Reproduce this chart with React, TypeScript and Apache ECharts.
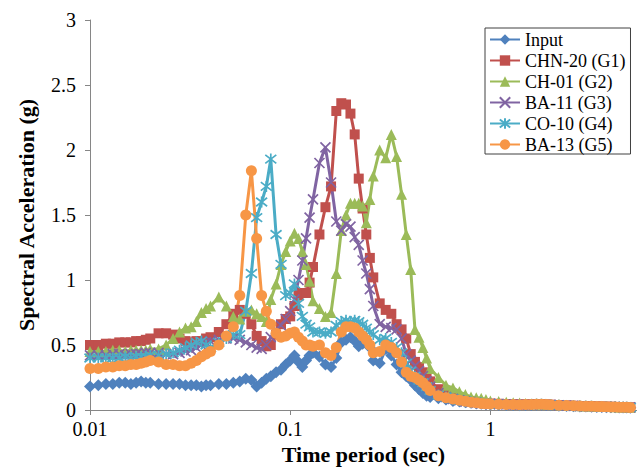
import React, { useEffect, useRef } from "react";
import * as echarts from "echarts";

// Time period (sec)
const periods = [
  0.010, 0.011, 0.012, 0.013, 0.014, 0.015, 0.016, 0.017, 0.018, 0.019, 0.020,
  0.022, 0.024, 0.026, 0.028, 0.030, 0.032, 0.034, 0.036, 0.038, 0.040,
  0.044, 0.048, 0.052, 0.056, 0.060, 0.064, 0.068, 0.072, 0.076, 0.080,
  0.085, 0.090, 0.095, 0.100,
  0.105, 0.110, 0.115, 0.120, 0.125, 0.130, 0.140, 0.150, 0.160, 0.170,
  0.180, 0.190, 0.200, 0.210, 0.220, 0.230, 0.240, 0.250, 0.260, 0.280,
  0.300, 0.320, 0.340, 0.360, 0.380, 0.400,
  0.42, 0.44, 0.46, 0.48, 0.50, 0.55, 0.60, 0.65, 0.70, 0.75, 0.80, 0.85,
  0.90, 0.95, 1.0,
  1.1, 1.2, 1.3, 1.4, 1.5, 1.6, 1.7, 1.8, 1.9, 2.0, 2.2, 2.4, 2.6, 2.8,
  3.0, 3.2, 3.4, 3.6, 3.8, 4.0, 4.2, 4.4, 4.6, 4.8, 5.0,
];

const inputSA = [
  0.18, 0.19, 0.20, 0.20, 0.21, 0.21, 0.20, 0.21, 0.22, 0.21, 0.21,
  0.20, 0.20, 0.20, 0.20, 0.19, 0.19, 0.19, 0.18, 0.19, 0.19,
  0.20, 0.20, 0.21, 0.22, 0.24, 0.23, 0.18, 0.21, 0.24, 0.26,
  0.29, 0.31, 0.35, 0.38,
  0.42, 0.37, 0.33, 0.38, 0.42, 0.44, 0.41, 0.35, 0.33, 0.40,
  0.52, 0.54, 0.56, 0.53, 0.49, 0.51, 0.54, 0.48, 0.38, 0.36,
  0.47, 0.42, 0.35, 0.29, 0.26, 0.23,
  0.19, 0.16, 0.13, 0.11, 0.10, 0.09, 0.08, 0.07, 0.065, 0.06, 0.055, 0.05,
  0.048, 0.045, 0.042,
  0.040, 0.039, 0.038, 0.037, 0.038, 0.039, 0.040, 0.040, 0.038, 0.036, 0.033, 0.031, 0.029, 0.027,
  0.026, 0.025, 0.024, 0.023, 0.022, 0.021, 0.021, 0.020, 0.019, 0.019, 0.018,
];

const chn20 = [
  0.50, 0.50, 0.51, 0.51, 0.52, 0.52, 0.52, 0.53, 0.53, 0.54, 0.55,
  0.59, 0.59, 0.58, 0.55, 0.53, 0.52, 0.53, 0.53, 0.55, 0.56,
  0.60, 0.66, 0.74, 0.77, 0.74, 0.66, 0.57, 0.53, 0.49, 0.50,
  0.58, 0.66, 0.70, 0.72,
  0.80, 0.88, 0.90, 0.90, 0.98, 1.10, 1.35, 1.56, 1.72, 2.30,
  2.36, 2.35, 2.28, 2.12, 1.78, 1.55, 1.35, 1.17, 1.02, 0.82,
  0.77, 0.74, 0.66, 0.62, 0.55, 0.43,
  0.37, 0.33, 0.29, 0.26, 0.22, 0.16, 0.12, 0.10, 0.085, 0.075, 0.065, 0.06,
  0.055, 0.05, 0.05,
  0.048, 0.046, 0.044, 0.043, 0.043, 0.044, 0.045, 0.045, 0.043, 0.041, 0.038, 0.035, 0.033, 0.031,
  0.030, 0.029, 0.028, 0.027, 0.026, 0.025, 0.024, 0.023, 0.023, 0.022, 0.021,
];

const ch01 = [
  0.45, 0.45, 0.45, 0.46, 0.46, 0.45, 0.46, 0.46, 0.46, 0.46, 0.47,
  0.47, 0.50, 0.55, 0.60, 0.63, 0.64, 0.68, 0.75, 0.78, 0.80,
  0.87, 0.80, 0.72, 0.70, 0.76, 0.77, 0.74, 0.72, 0.68, 0.85,
  0.97, 1.12, 1.22, 1.30,
  1.36, 1.32, 1.22, 1.12, 0.99, 0.84, 0.78, 0.72, 0.75, 1.05,
  1.38, 1.50, 1.59, 1.59, 1.59, 1.57, 1.44, 1.62, 1.80, 2.00,
  1.94, 2.12, 1.95, 1.66, 1.35, 1.08,
  0.62, 0.56, 0.48, 0.40, 0.32, 0.25, 0.19, 0.17, 0.14, 0.12, 0.10, 0.095,
  0.09, 0.08, 0.07,
  0.065, 0.060, 0.056, 0.053, 0.050, 0.049, 0.048, 0.047, 0.045, 0.043, 0.040, 0.037, 0.035, 0.033,
  0.031, 0.030, 0.029, 0.028, 0.027, 0.026, 0.025, 0.024, 0.023, 0.022, 0.021,
];

const ba11 = [
  0.42, 0.42, 0.42, 0.43, 0.43, 0.42, 0.43, 0.43, 0.43, 0.44, 0.44,
  0.44, 0.43, 0.43, 0.44, 0.45, 0.46, 0.48, 0.50, 0.52, 0.53,
  0.54, 0.55, 0.55, 0.54, 0.52, 0.50, 0.48, 0.47, 0.50, 0.56,
  0.62, 0.65, 0.70, 0.76,
  0.85, 1.00, 1.15, 1.32, 1.48, 1.62, 1.90, 2.02, 1.75, 1.45,
  1.38, 1.43, 1.41, 1.33, 1.27, 1.15, 1.05, 0.93, 0.80, 0.66,
  0.64, 0.63, 0.62, 0.55, 0.43, 0.38,
  0.34, 0.30, 0.26, 0.22, 0.18, 0.13, 0.10, 0.085, 0.075, 0.065, 0.06, 0.055,
  0.05, 0.048, 0.045,
  0.045, 0.043, 0.042, 0.041, 0.041, 0.042, 0.043, 0.043, 0.041, 0.039, 0.036, 0.033, 0.031, 0.029,
  0.028, 0.027, 0.026, 0.025, 0.024, 0.023, 0.022, 0.022, 0.021, 0.020, 0.020,
];

const co10 = [
  0.40, 0.40, 0.40, 0.40, 0.40, 0.41, 0.40, 0.41, 0.41, 0.41, 0.42,
  0.42, 0.43, 0.44, 0.46, 0.48, 0.50, 0.52, 0.53, 0.50, 0.48,
  0.52, 0.55, 0.58, 0.58, 0.76, 1.05, 1.48, 1.60, 1.72, 1.93,
  1.35, 1.12, 0.88, 0.90,
  0.97, 0.82, 0.72, 0.66, 0.64, 0.60, 0.60, 0.59, 0.60, 0.65,
  0.68, 0.69, 0.68, 0.69, 0.68, 0.66, 0.63, 0.60, 0.58, 0.54,
  0.55, 0.52, 0.48, 0.44, 0.36, 0.30,
  0.26, 0.23, 0.21, 0.18, 0.15, 0.115, 0.10, 0.085, 0.075, 0.068, 0.062, 0.057,
  0.053, 0.05, 0.047,
  0.045, 0.043, 0.042, 0.041, 0.042, 0.043, 0.044, 0.044, 0.042, 0.040, 0.037, 0.034, 0.032, 0.030,
  0.029, 0.028, 0.027, 0.026, 0.025, 0.024, 0.023, 0.022, 0.022, 0.021, 0.020,
];

const ba13 = [
  0.32, 0.32, 0.33, 0.33, 0.34, 0.34, 0.35, 0.35, 0.36, 0.37, 0.38,
  0.37, 0.35, 0.35, 0.34, 0.34, 0.36, 0.38, 0.41, 0.43, 0.45,
  0.50, 0.57, 0.64, 0.88, 1.50, 1.84, 1.32, 0.88, 0.76, 0.66,
  0.59, 0.56, 0.57, 0.59,
  0.60, 0.56, 0.53, 0.50, 0.50, 0.49, 0.50, 0.44, 0.42, 0.48,
  0.60, 0.64, 0.64, 0.63, 0.60, 0.57, 0.54, 0.50, 0.44, 0.45,
  0.50, 0.48, 0.44, 0.37, 0.29, 0.26,
  0.25, 0.23, 0.21, 0.18, 0.15, 0.11, 0.095, 0.085, 0.075, 0.068, 0.06, 0.055,
  0.05, 0.048, 0.046,
  0.045, 0.043, 0.042, 0.041, 0.042, 0.043, 0.044, 0.044, 0.042, 0.040, 0.037, 0.034, 0.032, 0.030,
  0.029, 0.028, 0.027, 0.026, 0.025, 0.024, 0.023, 0.022, 0.022, 0.021, 0.020,
];

const seriesNames = ["Input", "CHN-20 (G1)", "CH-01 (G2)", "BA-11 (G3)", "CO-10 (G4)", "BA-13 (G5)"];
const seriesValues = [inputSA, chn20, ch01, ba11, co10, ba13];
const seriesColors = ["#4F81BD", "#C0504D", "#9BBB59", "#8064A2", "#4BACC6", "#F79646"];
const seriesSymbols = [
  "diamond",
  "rect",
  "triangle",
  "path://M0,0L10,10M10,0L0,10",
  "path://M0,0L10,10M10,0L0,10M5,-1.5L5,11.5",
  "circle",
];
const symbolSizes = [12, 10, 11, 10, 11, 11];
const strokedSymbols = [false, false, false, true, true, false];

const serif = "'Liberation Serif', 'Times New Roman', serif";

export default function App() {
  const ref = useRef<HTMLDivElement>(null);

  useEffect(() => {
    const chart = echarts.init(ref.current as HTMLDivElement, null, { renderer: "svg" });
    const series = seriesNames.map((name, k) => ({
      name,
      type: "line",
      data: periods.map((p, i) => [p, seriesValues[k][i]]),
      symbol: seriesSymbols[k],
      symbolSize: symbolSizes[k],
      showSymbol: true,
      showAllSymbol: true,
      clip: true,
      lineStyle: { color: seriesColors[k], width: 3 },
      itemStyle: {
        color: seriesColors[k],
        borderColor: seriesColors[k],
        borderWidth: strokedSymbols[k] ? 1.7 : 0,
      },
      emphasis: { disabled: true },
    }));

    chart.setOption({
      animation: false,
      backgroundColor: "#ffffff",
      grid: { left: 90, right: 0, top: 20, bottom: 61 },
      legend: {
        orient: "vertical",
        left: 485,
        top: 28,
        padding: [2, 5, 0, 4],
        itemWidth: 30,
        itemHeight: 13,
        itemGap: 2,
        borderColor: "#404040",
        borderWidth: 1,
        backgroundColor: "#ffffff",
        textStyle: { fontFamily: serif, fontSize: 18, color: "#000", lineHeight: 19 },
        data: seriesNames,
      },
      xAxis: {
        type: "log",
        logBase: 10,
        min: 0.01,
        max: 5.4,
        name: "Time period (sec)",
        nameLocation: "middle",
        nameGap: 32,
        nameTextStyle: { fontFamily: serif, fontWeight: "bold", fontSize: 22, color: "#000" },
        axisLine: { show: true, lineStyle: { color: "#868686", width: 1 } },
        axisTick: { show: true, inside: false, length: 5, lineStyle: { color: "#868686" } },
        minorTick: { show: false },
        splitLine: { show: false },
        axisLabel: {
          fontFamily: serif,
          fontSize: 20,
          color: "#000",
          margin: 9,
          showMaxLabel: false,
          formatter: (v: number) => String(parseFloat(v.toPrecision(3))),
        },
      },
      yAxis: {
        type: "value",
        min: 0,
        max: 3,
        interval: 0.5,
        name: "Spectral Acceleration (g)",
        nameLocation: "middle",
        nameGap: 53,
        nameTextStyle: { fontFamily: serif, fontWeight: "bold", fontSize: 22, color: "#000" },
        axisLine: { show: true, lineStyle: { color: "#868686", width: 1 } },
        axisTick: { show: true, inside: false, length: 5, lineStyle: { color: "#868686" } },
        splitLine: { show: false },
        axisLabel: { fontFamily: serif, fontSize: 20, color: "#000", margin: 14 },
      },
      series,
    });

    return () => chart.dispose();
  }, []);

  return (
    <div
      ref={ref}
      style={{ position: "fixed", left: 0, top: 0, width: 637, height: 471, background: "#fff" }}
    />
  );
}
